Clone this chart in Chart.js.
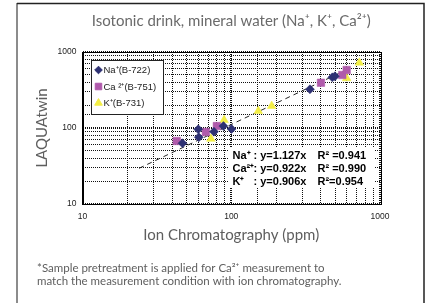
<!DOCTYPE html>
<html>
<head>
<meta charset="utf-8">
<script src="https://cdn.jsdelivr.net/npm/chart.js@4.4.1/dist/chart.umd.min.js"></script>
<style>
  html, body { margin: 0; padding: 0; background: #fff; }
  #wrap { position: relative; width: 439px; height: 303px; }
</style>
</head>
<body>
<div id="wrap"><canvas id="chart" width="439" height="303"></canvas></div>
<script>
// values (ppm)
const naX = [47, 60, 60.5, 76.5, 88.5, 100.5, 338, 478, 498];
const naY = [63, 96, 75.5, 89.5, 106, 97, 323, 464, 479];
const caX = [43, 67.5, 80, 401, 558, 597];
const caY = [67.5, 88.5, 106, 394, 498, 580];
const kX = [73, 89.5, 152, 187, 597, 726];
const kY = [72, 127, 167, 195, 451, 723];
const fitX = [24, 580];
const fitY = [29.5, 570];

const legendLabels = ['Na\u207A(B-722)', 'Ca \u00B2\u207A(B-751)', 'K\u207A(B-731)'];
const eqIons = ['Na\u207A', 'Ca\u00B2\u207A', 'K\u207A'];
const eqSlopes = ['1.127', '0.922', '0.906'];
const eqR2 = [' =0.941', ' =0.990', '=0.954'];
const footnote = [
    '*Sample pretreatment is applied for Ca\u00B2\u207A measurement to',
    'match the measurement condition with ion chromatography.'
];

const pts = (xs, ys) => xs.map((x, i) => ({ x: x, y: ys[i] }));
const isPow10 = v => Math.abs(Math.log10(v) - Math.round(Math.log10(v))) < 1e-9;
const FONT = '"Liberation Sans", Arial, sans-serif';
const LIGHT = 'Lato, "Liberation Sans", sans-serif';

const grid = {
    color: '#111',
    lineWidth: c => (c.tick && isPow10(c.tick.value) ? 2 : 1),
    drawTicks: false
};
const border = { display: true, color: '#000', width: 1, dash: [1, 1] };

// legend, equation box, footnote and outer frame
const extras = {
    id: 'extras',
    afterDatasetsDraw(chart) {
        const ctx = chart.ctx;
        const a = chart.chartArea;
        ctx.save();
        ctx.strokeStyle = '#000';
        ctx.lineWidth = 1;
        ctx.strokeRect(Math.round(a.left) + 0.5, Math.round(a.top) + 0.5, Math.round(a.right - a.left), Math.round(a.bottom - a.top));

        // legend box
        const lx = a.left + 8, ly = a.top + 8;
        ctx.fillStyle = '#fff';
        ctx.fillRect(lx, ly, 72, 54);
        ctx.strokeStyle = '#222';
        ctx.strokeRect(Math.round(lx) + 0.5, Math.round(ly) + 0.5, 72, 54);
        const series = chart.data.datasets.filter(d => d.inLegend);
        series.forEach((d, i) => {
            const y = ly + 10 + i * 16.5;
            ctx.fillStyle = d.backgroundColor;
            ctx.strokeStyle = d.borderColor;
            Chart.helpers.drawPoint(ctx, { pointStyle: d.pointStyle, radius: d.legendRadius, rotation: 0, borderWidth: 0.5 }, lx + 8, y);
            ctx.fillStyle = '#222';
            ctx.font = '9.5px ' + FONT;
            ctx.textBaseline = 'middle';
            ctx.textAlign = 'left';
            ctx.fillText(legendLabels[i], lx + 13, y + 0.5);
        });

        // equations
        const ex = a.left + 146, ey = a.top + 95;
        ctx.fillStyle = '#fff';
        ctx.fillRect(ex, ey, 146, 41);
        ctx.fillStyle = '#000';
        ctx.font = 'bold 11px ' + FONT;
        eqIons.forEach((ion, i) => {
            const y = ey + 9 + i * 13;
            ctx.fillText(ion, ex + 4, y);
            ctx.fillText(': y=' + eqSlopes[i] + 'x', ex + 25, y);
            ctx.fillText('R\u00B2' + eqR2[i], ex + 89, y);
        });

        // footnote
        ctx.fillStyle = '#5e5e5e';
        ctx.font = '11.5px ' + LIGHT;
        footnote.forEach((t, i) => ctx.fillText(t, 37, 268 + i * 13));

        // outer frame
        ctx.lineWidth = 2;
        ctx.strokeStyle = '#8c8c8c';
        ctx.beginPath(); ctx.moveTo(17, 3); ctx.lineTo(17, 310); ctx.stroke();
        ctx.lineWidth = 1.5;
        ctx.strokeStyle = '#222';
        ctx.beginPath(); ctx.moveTo(17, 3.5); ctx.lineTo(424, 3.5); ctx.lineTo(424, 310); ctx.stroke();
        ctx.restore();
    }
};

new Chart(document.getElementById('chart'), {
    type: 'scatter',
    data: {
        datasets: [
            {
                label: 'Na', data: pts(naX, naY), inLegend: true,
                pointStyle: 'rectRot', pointRadius: 4.5, legendRadius: 3.8,
                backgroundColor: '#2e3173', borderColor: '#2e3173', borderWidth: 0.5
            },
            {
                label: 'Ca', data: pts(caX, caY), inLegend: true,
                pointStyle: 'rect', pointRadius: 5.3, legendRadius: 4.6,
                backgroundColor: '#b05aab', borderColor: '#b05aab', borderWidth: 0.5
            },
            {
                label: 'K', data: pts(kX, kY), inLegend: true,
                pointStyle: 'triangle', pointRadius: 5, legendRadius: 4.4,
                backgroundColor: '#f3ee45', borderColor: '#f3ee45', borderWidth: 0.5
            },
            {
                type: 'line', label: 'fit', data: pts(fitX, fitY),
                borderColor: '#222', borderWidth: 1, borderDash: [5, 4],
                pointRadius: 0, showLine: true, fill: false
            }
        ]
    },
    options: {
        responsive: false,
        animation: false,
        events: [],
        layout: { padding: { left: 0, right: 59, top: 0, bottom: 54 } },
        plugins: {
            legend: { display: false },
            tooltip: { enabled: false },
            title: {
                display: true,
                fullSize: false,
                text: 'Isotonic drink, mineral water (Na\u207A, K\u207A, Ca\u00B2\u207A)',
                color: '#6a6a6a',
                font: { family: LIGHT, size: 15, weight: '400' },
                padding: { top: 12, bottom: 22 }
            }
        },
        scales: {
            x: {
                type: 'logarithmic', min: 10, max: 1000,
                grid: grid, border: border,
                afterFit: s => { s.height = 45; },
                ticks: {
                    autoSkip: false, maxRotation: 0, padding: 8, color: '#222',
                    font: { family: FONT, size: 8.5 },
                    callback: v => (isPow10(v) ? String(Math.round(v)) : '')
                },
                title: {
                    display: true, text: 'Ion Chromatography (ppm)', color: '#5e5e5e',
                    font: { family: LIGHT, size: 15, weight: '400' },
                    padding: { top: 0, bottom: 5 }
                }
            },
            y: {
                type: 'logarithmic', min: 10, max: 1000,
                grid: grid, border: border,
                afterFit: s => { s.width = 82.5; },
                ticks: {
                    autoSkip: false, padding: 6, color: '#222',
                    font: { family: FONT, size: 8.5 },
                    callback: v => (isPow10(v) ? String(Math.round(v)) : '')
                },
                title: {
                    display: true, text: 'LAQUAtwin', color: '#5e5e5e',
                    font: { family: LIGHT, size: 15, weight: '400' },
                    padding: { top: 33, bottom: 0 }
                }
            }
        }
    },
    plugins: [extras]
});
</script>
</body>
</html>
